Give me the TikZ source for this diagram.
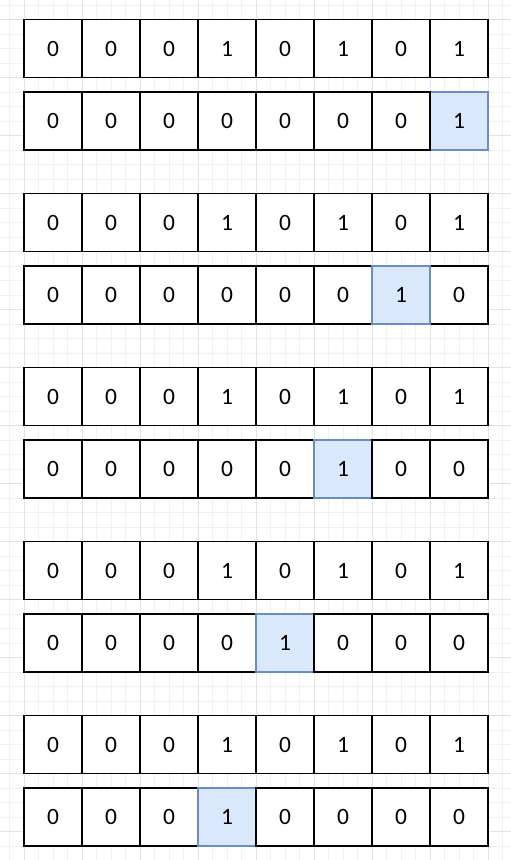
\documentclass[tikz,border=0pt]{standalone}
\usepackage{fontspec}
\setmainfont{Carlito}
\usepackage{tikz}

\definecolor{hlfill}{HTML}{DAE8FC}
\definecolor{hldraw}{HTML}{6C8EBF}

\tikzset{
    cell/.style={draw=black, line width=0.8pt, fill=white, minimum size=1cm, inner sep=0pt, outer sep=0pt,
        font=\fontsize{11.5}{12}\selectfont},
    hl/.style={cell, draw=hldraw, fill=hlfill},
    minorgrid/.style={draw=black!6, line width=0.4pt},
    majorgrid/.style={draw=black!11, line width=0.4pt}
}

\newcommand{\hlcell}[1]{\node[hl] (b#1-\h) at (\h-0.0862, {-2.086-3*#1}) {1};}

\begin{document}
\begin{tikzpicture}
    \useasboundingbox[fill=white] (0, 0) rectangle (8.8103, -14.8276);
    \foreach \k in {0,...,34} \draw[minorgrid] ({0.1638+0.25*\k}, 0) -- ++(0, -14.8276);
    \foreach \k in {0,...,58} \draw[minorgrid] (0, {-0.086-0.25*\k}) -- ++(8.8103, 0);
    \foreach \k in {0,...,8} \draw[majorgrid] ({0.4138+\k}, 0) -- ++(0, -14.8276);
    \foreach \k in {0,...,14} \draw[majorgrid] (0, {-0.336-\k}) -- ++(8.8103, 0);

    % \w: 0 = blue cell drawn first, 1 = in order, 2 = last
    \foreach \p/\w in {0/0, 1/2, 2/1, 3/1, 4/1} {
        \foreach \b [count=\i] in {0,0,0,1,0,1,0,1}
            \node[cell] (t\p-\i) at (\i-0.0862, {-0.836-3*\p}) {\b};
        \pgfmathtruncatemacro\h{8-\p}
        \ifnum\w=0 \hlcell{\p}\fi
        \foreach \i in {1,...,8} {
            \ifnum\i=\h
                \ifnum\w=1 \hlcell{\p}\fi
            \else
                \node[cell] (b\p-\i) at (\i-0.0862, {-2.086-3*\p}) {0};
            \fi
        }
        \ifnum\w=2 \hlcell{\p}\fi
    }
\end{tikzpicture}
\end{document}
